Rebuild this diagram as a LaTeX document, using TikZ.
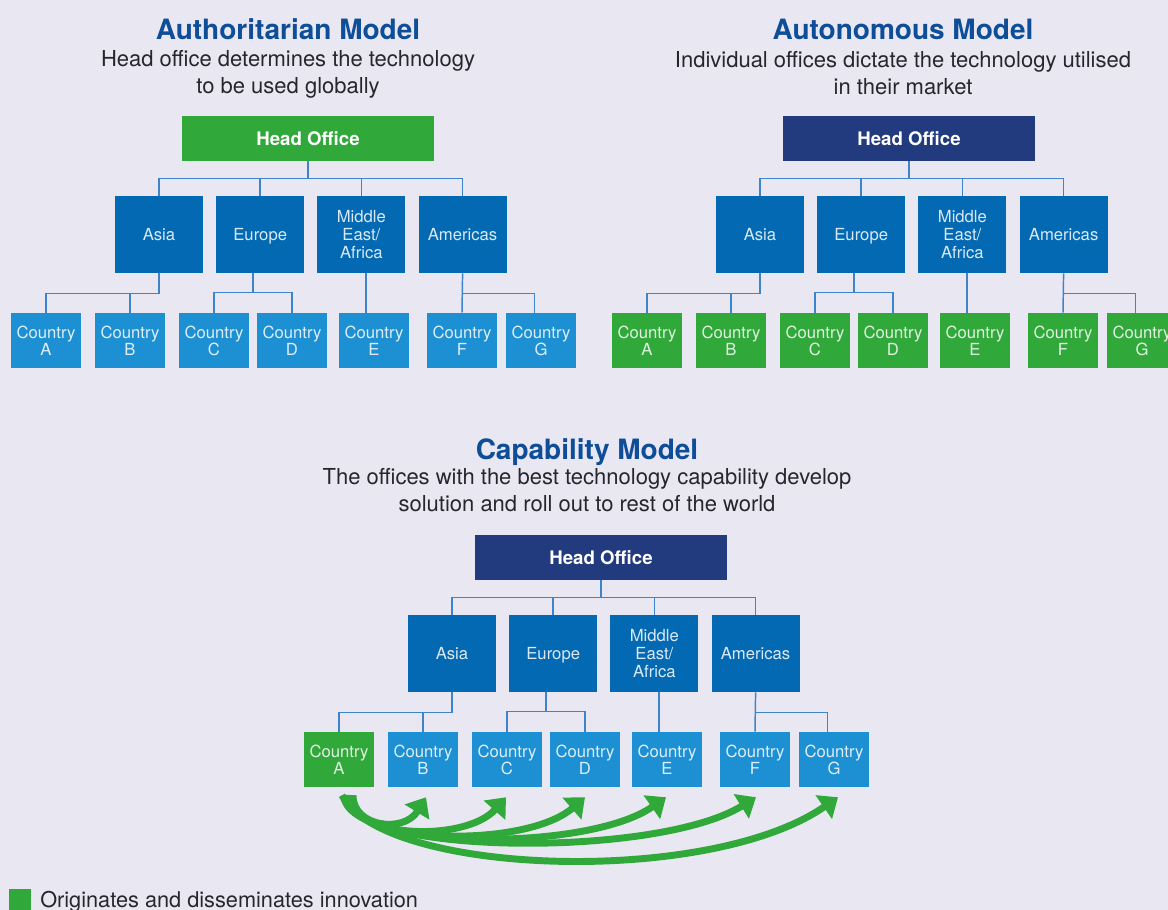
\documentclass[tikz,border=0pt]{standalone}
\usepackage{fontspec}
\setmainfont{TeX Gyre Heros}
\usetikzlibrary{arrows.meta,positioning,calc}
\definecolor{bgcol}{RGB}{233,232,242}
\definecolor{hogreen}{RGB}{49,168,58}
\definecolor{hoblue}{RGB}{34,58,126}
\definecolor{regblue}{RGB}{4,105,179}
\definecolor{ctryblue}{RGB}{29,143,211}
\definecolor{linkblue}{RGB}{62,132,202}
\definecolor{titleblue}{RGB}{14,77,152}
\definecolor{subgray}{RGB}{38,38,44}

\begin{document}
\begin{tikzpicture}[x=0.75pt,y=-0.75pt,
  headbox/.style={minimum width=189pt,minimum height=33.75pt,inner sep=0pt,text=white,font=\fontsize{14}{16}\selectfont\bfseries},
  regbox/.style={fill=regblue,minimum width=66pt,minimum height=57.75pt,inner sep=0pt,align=center,text=white,text opacity=0.85,font=\fontsize{12.5}{13.5}\selectfont},
  oneline/.style={text height=11pt,text depth=2pt},
  ctrybox/.style={minimum width=52.5pt,minimum height=41.25pt,inner sep=0pt,align=center,text=white,text opacity=0.85,font=\fontsize{12.5}{12.75}\selectfont},
  link/.style={draw=linkblue,line width=1.1pt},
  spread/.style={draw=hogreen,line width=5.2pt,-{Triangle[width=21pt,length=13pt]}},
  title/.style={anchor=base,text=titleblue,font=\fontsize{21}{24}\selectfont\bfseries},
  subtitle/.style={align=center,inner sep=0pt,text=subgray,font=\fontsize{16.5}{20.25}\selectfont}]

   \useasboundingbox (0,0) rectangle (1168,910);
   \clip (0,0) rectangle (1168,910);
   \fill[bgcol] (0,0) rectangle (1168,910);

   \node[title] (authtitle) at (288,40) {Authoritarian Model};
   \node[subtitle] (authsub) at (288,74.5) {Head office determines the technology\\to be used globally};
   \node[title] (autotitle) at (903,40) {Autonomous Model};
   \node[subtitle] (autosub) at (903,73) {Individual offices dictate the technology utilised\\in their market};
   \node[title] (capatitle) at (587,459) {Capability Model};
   \node[subtitle] (capasub) at (587,490.5) {The offices with the best technology capability develop\\solution and roll out to rest of the world};

   \foreach \model/\dx/\dy/\hcol/\acol/\ccol in {auth/0/0/hogreen/ctryblue/ctryblue,auto/601/0/hoblue/hogreen/hogreen,capa/293/419/hoblue/hogreen/ctryblue}{
   \begin{scope}[shift={(\dx,\dy)}]
     \node[headbox,fill=\hcol] (\model-ho) at (308,138.5) {Head Office};
     \node[regbox,oneline] (\model-asia) at (159,234.5) {Asia};
     \node[regbox,oneline,right=9.5pt of \model-asia] (\model-europe) {Europe};
     \node[regbox,right=9.5pt of \model-europe] (\model-mea) {Middle\\East/\\Africa};
     \node[regbox,oneline,right=9.5pt of \model-mea] (\model-amer) {Americas};
     \node[ctrybox,fill=\acol] (\model-a) at (46,340.5) {Country\\A};
     \foreach \cn/\cx/\letter in {b/130/B,c/214/C,d/292/D,e/374/E,f/462/F,g/541/G}
       \node[ctrybox,fill=\ccol] (\model-\cn) at (\cx,340.5) {Country\\\letter};

     % head office to regions
     \draw[link] (\model-ho.south) -- ++(0,18);
     \draw[link] (\model-asia.north) -- ++(0,-17) -| (\model-amer.north);
     \draw[link] (\model-europe.north) -- ++(0,-17);
     \draw[link] (\model-mea.north) -- ++(0,-17);
     % regions to countries
     \draw[link] (\model-asia.south) -- ++(0,20) -| (\model-a.north);
     \draw[link] (\model-b.north) -- ++(0,-20);
     \draw[link] (\model-c.north) -- ++(0,-20) -| (\model-d.north);
     \path ($(\model-c.north)!0.5!(\model-d.north)$) ++(0,-20) coordinate (\model-eubus);
     \draw[link] (\model-eubus) -- (\model-eubus |- \model-europe.south);
     \draw[link] ([xshift=-6pt]\model-e.north) -- ([xshift=-6pt]\model-e.north |- \model-mea.south);
     \draw[link] (\model-amer.south) -- (\model-f.north);
     \draw[link] (\model-amer.south) ++(0,20) -| ([xshift=-5pt]\model-g.north);
   \end{scope}
   }

   % roll out from country A
   \draw[spread] ([xshift=2.25pt,yshift=-6pt]capa-a.south) .. controls +(40,80) and +(-130,90) .. ([xshift=3pt,yshift=-7.5pt]capa-g.south);
   \draw[spread] ([xshift=3.75pt,yshift=-6pt]capa-a.south) .. controls +(0,60) and +(-100,62) .. ([xshift=0.75pt,yshift=-7.5pt]capa-f.south);
   \draw[spread] ([xshift=5.25pt,yshift=-6pt]capa-a.south) .. controls +(0,55) and +(-80,56) .. ([xshift=-0.75pt,yshift=-7.5pt]capa-e.south);
   \draw[spread] ([xshift=6.75pt,yshift=-6pt]capa-a.south) .. controls +(0,50) and +(-60,52) .. ([yshift=-7.5pt]capa-d.south);
   \draw[spread] ([xshift=8.25pt,yshift=-6pt]capa-a.south) .. controls +(0,44) and +(-40,45) .. ([xshift=-0.75pt,yshift=-7.5pt]capa-c.south);
   \draw[spread] ([xshift=10.5pt,yshift=-6pt]capa-a.south) .. controls +(0,32) and +(-22,36) .. ([xshift=2.25pt,yshift=-7.5pt]capa-b.south);

   \node[fill=hogreen,minimum size=16.5pt,inner sep=0pt,anchor=north west] (legendbox) at (9,889) {};
   \node[anchor=base west,inner sep=0pt,text=subgray,font=\fontsize{16.3}{18}\selectfont] (legendtext) at (40,907.5) {Originates and disseminates innovation};

\end{tikzpicture}
\end{document}
